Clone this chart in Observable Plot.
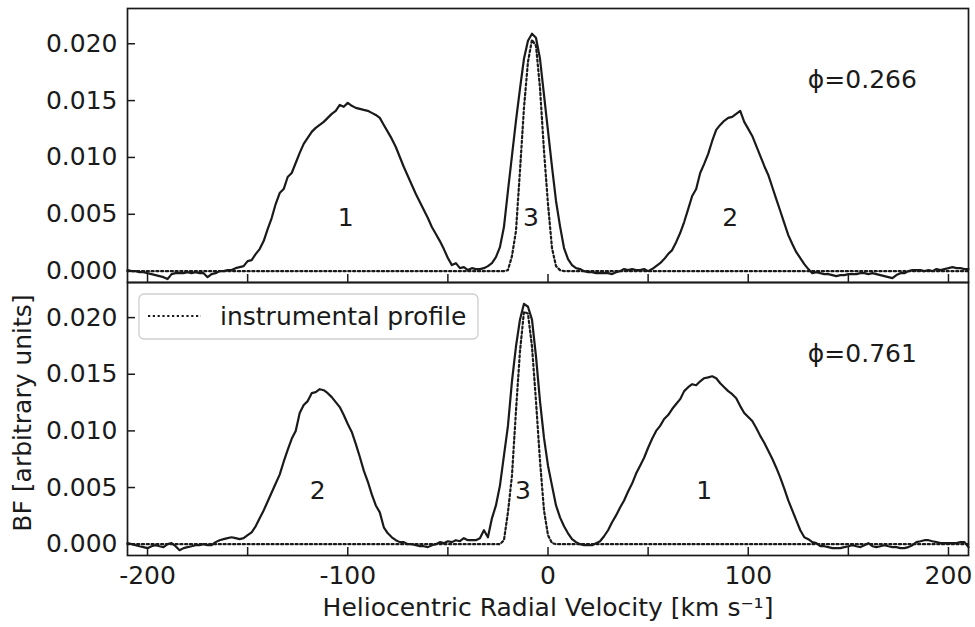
<!DOCTYPE html>
<html><head><meta charset="utf-8">
<script src="https://cdn.jsdelivr.net/npm/d3@7"></script>
<script src="https://cdn.jsdelivr.net/npm/@observablehq/plot@0.6"></script>
<style>
html,body{margin:0;padding:0;background:#fff;}
#chart{width:975px;height:627px;position:relative;}
#chart svg{display:block;overflow:visible;}
</style></head><body><div id="chart"></div>
<script>
// Heliocentric radial velocity grid (km/s)
const velocity = [
-210,-208,-206,-204,-202,-200,-198,-196,-194,-192,
-190,-188,-186,-184,-182,-180,-178,-176,-174,-172,
-170,-168,-166,-164,-162,-160,-158,-156,-154,-152,
-150,-148,-146,-144,-142,-140,-138,-136,-134,-132,
-130,-128,-126,-124,-122,-120,-118,-116,-114,-112,
-110,-108,-106,-104,-102,-100,-98,-96,-94,-92,
-90,-88,-86,-84,-82,-80,-78,-76,-74,-72,
-70,-68,-66,-64,-62,-60,-58,-56,-54,-52,
-50,-48,-46,-44,-42,-40,-38,-36,-34,-32,
-30,-28,-26,-24,-22,-20,-18,-16,-14,-12,
-10,-8,-6,-4,-2,0,2,4,6,8,
10,12,14,16,18,20,22,24,26,28,
30,32,34,36,38,40,42,44,46,48,
50,52,54,56,58,60,62,64,66,68,
70,72,74,76,78,80,82,84,86,88,
90,92,94,96,98,100,102,104,106,108,
110,112,114,116,118,120,122,124,126,128,
130,132,134,136,138,140,142,144,146,148,
150,152,154,156,158,160,162,164,166,168,
170,172,174,176,178,180,182,184,186,188,
190,192,194,196,198,200,202,204,206,208,
210];

// Broadening function, phase 0.266 (top panel)
const bfPhase0266 = [
0.00009,0,0,-0.00009,-0.00009,-0.00018,-0.00026,-0.00035,-0.00044,-0.00053,
-0.00070,-0.00026,-0.00018,-0.00018,-0.00018,-0.00009,-0.00018,-0.00009,-0.00018,-0.00018,
-0.00053,-0.00026,-0.00018,0,0,0.00009,0.00009,0.00026,0.00035,0.00044,
0.00088,0.00097,0.00150,0.00194,0.00264,0.00370,0.00467,0.00590,0.00687,0.00722,
0.00828,0.00863,0.00951,0.01040,0.01119,0.01172,0.01225,0.01260,0.01286,0.01313,
0.01348,0.01383,0.01410,0.01462,0.01445,0.01480,0.01454,0.01436,0.01427,0.01418,
0.01410,0.01392,0.01374,0.01348,0.01286,0.01225,0.01163,0.01092,0.01004,0.00916,
0.00837,0.00758,0.00678,0.00608,0.00537,0.00467,0.00388,0.00326,0.00264,0.00194,
0.00115,0.00053,0.00070,0.00026,0.00035,0.00009,0.00026,0.00018,0.00018,0.00026,
0.00044,0.00070,0.00123,0.00211,0.00388,0.00705,0.01013,0.01322,0.01603,0.01868,
0.02026,0.02088,0.02053,0.01868,0.01551,0.01233,0.00916,0.00617,0.00396,0.00203,
0.00106,0.00053,0.00026,0.00018,0,-0.00009,-0.00009,-0.00018,-0.00018,-0.00018,
-0.00018,-0.00026,-0.00009,0,0.00018,0.00009,0.00018,0.00009,0.00009,0.00018,
0,0.00018,0.00044,0.00070,0.00106,0.00150,0.00185,0.00255,0.00335,0.00432,
0.00546,0.00661,0.00722,0.00863,0.00943,0.01031,0.01145,0.01242,0.01286,0.01322,
0.01348,0.01357,0.01383,0.01410,0.01313,0.01251,0.01189,0.01101,0.01013,0.00925,
0.00846,0.00740,0.00634,0.00529,0.00423,0.00317,0.00238,0.00167,0.00115,0.00062,
0.00018,-0.00018,-0.00009,-0.00018,-0.00026,-0.00026,-0.00035,-0.00044,-0.00035,-0.00035,
-0.00026,-0.00026,-0.00026,-0.00018,-0.00018,-0.00026,-0.00018,-0.00026,-0.00035,-0.00044,
-0.00053,-0.00062,-0.00035,-0.00018,-0.00018,0,0.00009,0.00009,0.00009,0,
0.00009,0,0.00018,0.00009,0.00018,0.00026,0.00035,0.00026,0.00026,0.00018,
0.00018];

// Broadening function, phase 0.761 (bottom panel)
const bfPhase0761 = [
0.00009,0,-0.00009,-0.00018,-0.00026,-0.00035,-0.00018,-0.00009,-0.00018,-0.00026,
0,0.00009,-0.00018,-0.00053,-0.00035,-0.00026,-0.00018,-0.00009,-0.00009,0,
-0.00009,-0.00009,0.00018,0.00035,0.00044,0.00053,0.00061,0.00053,0.00044,0.00053,
0.00079,0.00105,0.00158,0.00228,0.00298,0.00377,0.00456,0.00535,0.00614,0.00728,
0.00833,0.00930,0.01000,0.01158,0.01228,0.01263,0.01333,0.01342,0.01368,0.01359,
0.01333,0.01298,0.01254,0.01210,0.01140,0.01061,0.00991,0.00886,0.00772,0.00649,
0.00553,0.00439,0.00342,0.00281,0.00149,0.00096,0.00061,0.00035,0.00018,0.00018,
0,0,-0.00009,-0.00018,-0.00018,-0.00026,-0.00009,0,0.00018,0.00009,
0.00026,0.00018,0.00035,0.00026,0.00053,0.00035,0.00035,0.00035,0.00053,0.00123,
0.00061,0.00228,0.00342,0.00517,0.00781,0.01044,0.01438,0.01745,0.01982,0.02122,
0.02096,0.01982,0.01658,0.01263,0.00938,0.00693,0.00517,0.00342,0.00237,0.00158,
0.00096,0.00044,0.00018,0,-0.00009,-0.00009,-0.00009,0.00009,0.00026,0.00070,
0.00123,0.00193,0.00254,0.00324,0.00386,0.00465,0.00535,0.00623,0.00693,0.00763,
0.00851,0.00930,0.01000,0.01044,0.01105,0.01140,0.01193,0.01237,0.01280,0.01351,
0.01386,0.01412,0.01403,0.01438,0.01465,0.01473,0.01482,0.01465,0.01421,0.01386,
0.01351,0.01324,0.01289,0.01219,0.01158,0.01123,0.01087,0.01026,0.00956,0.00895,
0.00824,0.00754,0.00675,0.00588,0.00491,0.00386,0.00298,0.00210,0.00123,0.00061,
0.00044,0.00018,0.00009,-0.00018,-0.00018,-0.00026,-0.00035,-0.00035,-0.00035,-0.00026,
-0.00018,-0.00009,-0.00018,-0.00026,-0.00009,0.00009,-0.00018,-0.00026,-0.00018,-0.00009,
-0.00018,-0.00026,-0.00026,-0.00035,-0.00035,-0.00026,-0.00009,0.00018,0.00026,0.00035,
0.00035,0.00026,0.00018,0.00009,0.00009,0.00009,0.00009,0.00009,0.00018,0.00018,
-0.00026];

// Instrumental profile (dotted)
const instrVelocity = [-210,-24,-22,-20,-18,-16,-14,-12,-10,-8,-6,-4,-2,0,2,4,6,8,210];
const instrPhase0266 = [0,0,0,0.00009,0.00132,0.00352,0.00881,0.01436,0.01841,0.02035,0.01982,0.01612,0.01057,0.00590,0.00203,0.00044,0.00009,0,0];
const instrPhase0761 = [0,0,0.00035,0.00281,0.00605,0.01175,0.01701,0.02052,0.02035,0.01745,0.01263,0.00737,0.00298,0.00079,0.00009,0,0,0,0];

// Ticks and labels
const yTicks = [0, 0.005, 0.010, 0.015, 0.020];
const xTickLabels = [-200, -100, 0, 100, 200];
const xTickMarks = [-200, -150, -100, -50, 0, 50, 100, 150, 200];
const topPeakX = [-101, -8.5, 91];
const topPeakText = ["1", "3", "2"];
const bottomPeakX = [-115, -12.5, 78];
const bottomPeakText = ["2", "3", "1"];
const peakLabelY = [0.0047, 0.0047, 0.0047];
const phaseText = ["ϕ=0.266", "ϕ=0.761"];
const phaseX = [157];
const phaseY = [0.0168];
const xLabel = ["Heliocentric Radial Velocity [km s⁻¹]"];
const yLabel = ["BF [arbitrary units]"];
const legendLabels = ["instrumental profile"];

const ink = "#1a1a1a";
const W = 975, ML = 127, MR = 7;
const frameW = W - ML - MR;
const DOTS = "2.2,2.6";

function legendMark(labelText) {
  return (index, scales, values, dims) => {
    const g = d3.create("svg:g");
    const x0 = dims.marginLeft + 12, y0 = dims.marginTop + 12;
    g.append("rect").attr("x", x0).attr("y", y0).attr("width", 339).attr("height", 45)
      .attr("rx", 5).attr("fill", "white").attr("fill-opacity", 0.85)
      .attr("stroke", "#cfcfcf").attr("stroke-width", 1.3);
    g.append("line").attr("x1", x0 + 9).attr("x2", x0 + 62).attr("y1", y0 + 22).attr("y2", y0 + 22)
      .attr("stroke", ink).attr("stroke-width", 2.2).attr("stroke-dasharray", DOTS);
    g.append("text").attr("x", x0 + 81).attr("y", y0 + 22).attr("dy", "0.35em")
      .attr("text-anchor", "start").attr("fill", ink).text(labelText);
    return g.node();
  };
}

function panel({bf, instr, peakX, peakText, phase, height, marginTop, marginBottom, bottom}) {
  const rows = velocity.map((v, i) => ({v, bf: bf[i]}));
  const irows = instrVelocity.map((v, i) => ({v, bf: instr[i]}));
  const frameH = height - marginTop - marginBottom;
  const marks = [
    Plot.line(irows, {x: "v", y: "bf", stroke: ink, strokeWidth: 2.2, strokeDasharray: DOTS}),
    Plot.line(rows, {x: "v", y: "bf", stroke: ink, strokeWidth: 2.2, strokeLinejoin: "round"}),
    Plot.text(peakText, {x: peakX, y: peakLabelY, text: d => d, fill: ink}),
    Plot.text([phase], {x: phaseX, y: phaseY, text: d => d, fill: ink}),
    Plot.tickX(xTickMarks, {x: d => d, insetTop: frameH - 8, stroke: ink, strokeWidth: 1.5}),
    Plot.tickY(yTicks, {y: d => d, insetRight: frameW - 8, stroke: ink, strokeWidth: 1.5}),
    Plot.axisY(yTicks, {tickSize: 0, tickPadding: 10, tickFormat: d3.format(".3f"), label: null, fill: ink}),
    Plot.frame({stroke: ink, strokeWidth: 1.7})
  ];
  if (bottom) {
    marks.push(
      Plot.axisX(xTickLabels, {tickSize: 0, tickPadding: 11, tickFormat: d => String(d), label: null, fill: ink}),
      Plot.text(xLabel, {frameAnchor: "bottom", lineAnchor: "middle", dy: 52, text: d => d, fill: ink}),
      Plot.text(yLabel, {frameAnchor: "left", textAnchor: "middle", lineAnchor: "middle", rotate: -90, dx: -105, dy: -6, text: d => d, fill: ink}),
      legendMark(legendLabels[0])
    );
  }
  return Plot.plot({
    width: W, height, marginLeft: ML, marginRight: MR, marginTop, marginBottom,
    style: {fontFamily: "'DejaVu Sans', sans-serif", fontSize: "25px", color: ink, background: "white", overflow: "visible"},
    x: {domain: [-210, 210], axis: bottom ? undefined : null},
    y: {domain: [-0.001, 0.0231]},
    marks
  });
}

const chart = document.getElementById("chart");
chart.appendChild(panel({bf: bfPhase0266, instr: instrPhase0266, peakX: topPeakX, peakText: topPeakText,
  phase: phaseText[0], height: 282, marginTop: 8, marginBottom: 0, bottom: false}));
chart.appendChild(panel({bf: bfPhase0761, instr: instrPhase0761, peakX: bottomPeakX, peakText: bottomPeakText,
  phase: phaseText[1], height: 345, marginTop: 0, marginBottom: 72, bottom: true}));
</script></body></html>
